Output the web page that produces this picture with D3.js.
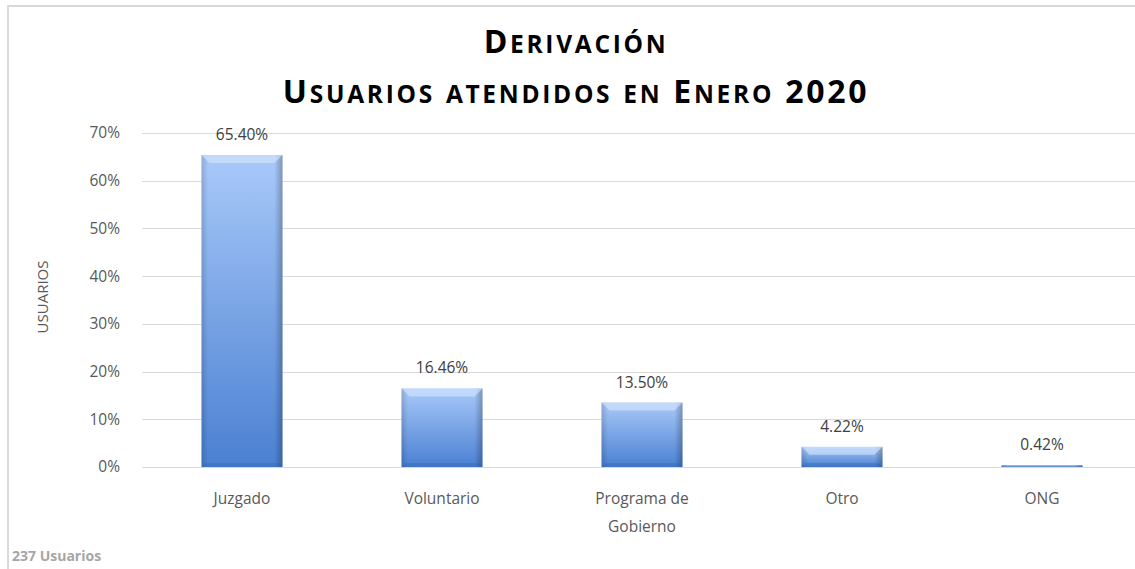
<!DOCTYPE html>
<html><head><meta charset="utf-8">
<script src="https://cdn.jsdelivr.net/npm/d3@7"></script>
<style>
html,body{margin:0;padding:0;background:#fff;}
svg{display:block;}
</style></head>
<body>
<svg id="chart" width="1135" height="569"></svg>
<script>
const categories = ["Juzgado", "Voluntario", "Programa de Gobierno", "Otro", "ONG"];
const values = [65.40, 16.46, 13.50, 4.22, 0.42];
const yTicks = [0, 10, 20, 30, 40, 50, 60, 70];
const titleLines = ["Derivación", "Usuarios atendidos en Enero 2020"];
const yLabel = "USUARIOS";
const footnote = "237 Usuarios";

const svg = d3.select("#chart");
const font = "'Open Sans', 'Liberation Sans', sans-serif";
const W = 1135, H = 569;
const plot = {left: 142, right: 1142, top: 133, bottom: 467};

// frame
svg.append("rect").attr("x", 8).attr("y", 6).attr("width", W).attr("height", H)
  .attr("fill", "#fff").attr("stroke", "#d9d9d9").attr("stroke-width", 2);

const y = d3.scaleLinear().domain([0, 70]).range([plot.bottom, plot.top]);
const x = d3.scaleBand().domain(categories).range([plot.left, plot.right])
  .paddingInner(0.595).paddingOuter(0.2975);

// gridlines
svg.append("g").selectAll("line").data(yTicks).join("line")
  .attr("x1", plot.left).attr("x2", W)
  .attr("y1", d => Math.round(y(d)) + 0.5).attr("y2", d => Math.round(y(d)) + 0.5)
  .attr("stroke", "#d9d9d9").attr("stroke-width", 1);

// y axis labels
const yAxis = d3.axisLeft(y).tickValues(yTicks).tickFormat(d => d + "%").tickSize(0).tickPadding(0);
const yg = svg.append("g").attr("transform", `translate(${plot.left - 22},0)`).call(yAxis);
yg.select(".domain").remove();
yg.selectAll("text").attr("font-family", font).attr("font-size", 15.5).attr("fill", "#595959");

// y label
svg.append("text").attr("transform", "translate(48,297) rotate(-90)")
  .attr("text-anchor", "middle").attr("font-family", font).attr("font-size", 15)
  .attr("fill", "#595959").text(yLabel);

// gradients
const defs = svg.append("defs");
const g1 = defs.append("linearGradient").attr("id", "barGrad").attr("x1", 0).attr("y1", 0).attr("x2", 0).attr("y2", 1);
g1.append("stop").attr("offset", "0%").attr("stop-color", "#a9c9f9");
g1.append("stop").attr("offset", "100%").attr("stop-color", "#4a80d2");
const g2 = defs.append("linearGradient").attr("id", "sideGrad").attr("x1", 0).attr("y1", 0).attr("x2", 1).attr("y2", 0);
g2.append("stop").attr("offset", "0%").attr("stop-color", "#000").attr("stop-opacity", 0.15);
g2.append("stop").attr("offset", "8%").attr("stop-color", "#000").attr("stop-opacity", 0);
g2.append("stop").attr("offset", "90%").attr("stop-color", "#000").attr("stop-opacity", 0);
g2.append("stop").attr("offset", "100%").attr("stop-color", "#000").attr("stop-opacity", 0.25);

const data = categories.map((c, i) => ({c, v: values[i]}));
const bars = svg.append("g").selectAll("g").data(data).join("g");
bars.append("rect")
  .attr("x", d => x(d.c)).attr("width", x.bandwidth())
  .attr("y", d => y(d.v)).attr("height", d => Math.max(2, y(0) - y(d.v)))
  .attr("fill", "url(#barGrad)");
bars.append("rect")
  .attr("x", d => x(d.c)).attr("width", x.bandwidth())
  .attr("y", d => y(d.v)).attr("height", d => Math.max(2, y(0) - y(d.v)))
  .attr("fill", "url(#sideGrad)");
// top bevel
bars.filter(d => y(0) - y(d.v) > 12).append("path")
  .attr("d", d => {
    const x0 = x(d.c), x1 = x0 + x.bandwidth(), t = y(d.v), b = 8;
    return `M${x0},${t}L${x1},${t}L${x1 - b},${t + b}L${x0 + b},${t + b}Z`;
  })
  .attr("fill", "#d6e6fd").attr("opacity", 0.6);
// bottom shade
bars.filter(d => y(0) - y(d.v) > 12).append("path")
  .attr("d", d => {
    const x0 = x(d.c), x1 = x0 + x.bandwidth(), bt = y(0), b = 4;
    return `M${x0},${bt}L${x1},${bt}L${x1 - b},${bt - b}L${x0 + b},${bt - b}Z`;
  })
  .attr("fill", "#2f5fa8").attr("opacity", 0.3);

// data labels
bars.append("text")
  .attr("x", d => x(d.c) + x.bandwidth() / 2)
  .attr("y", d => y(d.v) - 15)
  .attr("text-anchor", "middle").attr("font-family", font).attr("font-size", 15.5)
  .attr("fill", "#404040").text(d => d.v.toFixed(2) + "%");

// category labels
const cl = svg.append("g").selectAll("text").data(categories).join("text")
  .attr("x", d => x(d) + x.bandwidth() / 2).attr("y", 504)
  .attr("text-anchor", "middle").attr("font-family", font).attr("font-size", 15.5)
  .attr("fill", "#595959");
cl.each(function(d) {
  const words = d.split(" ");
  const lines = words.length > 2 ? [words.slice(0, -1).join(" "), words[words.length - 1]] : [d];
  const t = d3.select(this);
  lines.forEach((ln, i) => t.append("tspan").attr("x", x(d) + x.bandwidth() / 2).attr("dy", i ? 28 : 0).text(ln));
});

// title (manual small caps)
const capSize = 32, smallSize = 24.5;
titleLines.forEach((ln, i) => {
  const t = svg.append("text").attr("x", 576).attr("y", 53 + i * 50)
    .attr("text-anchor", "middle").attr("font-family", font).attr("font-weight", "bold")
    .attr("letter-spacing", 2.7).attr("fill", "#000");
  const runs = [];
  for (const ch of ln) {
    const isSmall = ch !== ch.toUpperCase();
    const last = runs[runs.length - 1];
    if (last && last.small === isSmall) last.s += ch; else runs.push({small: isSmall, s: ch});
  }
  runs.forEach(r => t.append("tspan").attr("font-size", r.small ? smallSize : capSize)
    .text(r.small ? r.s.toUpperCase() : r.s));
});

// footnote
svg.append("text").attr("x", 12).attr("y", 561).attr("font-family", font)
  .attr("font-weight", "bold").attr("font-size", 14).attr("fill", "#a6a6a6").text(footnote);
</script>
</body></html>
